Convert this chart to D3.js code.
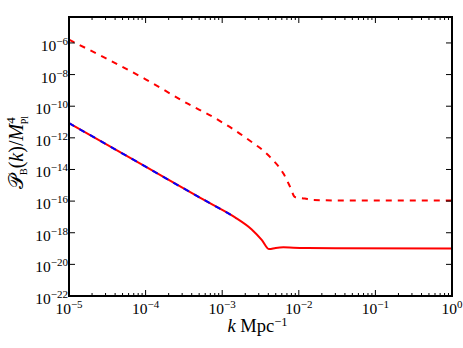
<!DOCTYPE html>
<html>
<head>
<meta charset="utf-8">
<script src="https://cdn.jsdelivr.net/npm/d3@7"></script>
<style>
  body { margin: 0; background: #fff; }
  text { font-family: "Liberation Serif", "DejaVu Serif", serif; fill: #000; }
</style>
</head>
<body>
<svg id="chart" width="463" height="348"></svg>
<script>
// data
var kDashed = [1e-5, 1e-4, 3.6e-4, 7.7e-4, 2.1e-3, 4.2e-3, 6.3e-3, 7.7e-3, 8.9e-3, 1.2e-2, 1.5e-2, 3.2e-2, 1];
var pDashed = [1.6e-6, 5e-9, 1.4e-10, 2e-11, 9e-13, 6.2e-14, 5.5e-15, 8e-16, 1.8e-16, 1.45e-16, 1.2e-16, 1.1e-16, 1.1e-16];

var kSolid = [1e-5, 1e-4, 3.44e-4, 7.7e-4, 1.47e-3, 2.43e-3, 3.3e-3, 4.1e-3, 5.0e-3, 6.3e-3, 8.5e-3, 1.3e-2, 3e-2, 1];
var pSolid = [8.5e-12, 1.5e-14, 4.9e-16, 5.5e-17, 9.3e-18, 1.6e-18, 3.4e-19, 9.2e-20, 1.1e-19, 1.2e-19, 1.13e-19, 1.08e-19, 1.05e-19, 1.02e-19];

var blueEnd = 1.5e-3; // blue dashed curve sits on the red one up to here

var xTickExp = [-5, -4, -3, -2, -1, 0];
var yTickExp = [-22, -20, -18, -16, -14, -12, -10, -8, -6];

//Global config
var width = 463, height = 348;
var margin = {left: 69, top: 17, right: 11, bottom: 52};
var plotW = width - margin.left - margin.right;
var plotH = height - margin.top - margin.bottom;

var svg = d3.select("#chart");
var g = svg.append("g").attr("transform", "translate(" + margin.left + "," + margin.top + ")");

var x = d3.scaleLog().domain([1e-5, 1]).range([0, plotW]);
var y = d3.scaleLog().domain([1e-22, Math.pow(10, -4.36)]).range([plotH, 0]);

g.append("clipPath").attr("id", "plotclip")
  .append("rect").attr("width", plotW).attr("height", plotH);
g.append("clipPath").attr("id", "blueclip")
  .append("rect").attr("width", x(blueEnd)).attr("height", plotH);

var line = d3.line()
  .x(function(d){ return x(d[0]); })
  .y(function(d){ return y(d[1]); })
  .curve(d3.curveMonotoneX);

var solid = d3.zip(kSolid, pSolid);
var dashed = d3.zip(kDashed, pDashed);

var curves = g.append("g").attr("clip-path", "url(#plotclip)");
curves.append("path").datum(solid)
  .attr("d", line).attr("fill", "none")
  .attr("stroke", "#ff0000").attr("stroke-width", 2);
curves.append("path").datum(solid)
  .attr("d", line).attr("fill", "none")
  .attr("clip-path", "url(#blueclip)")
  .attr("stroke", "#0000ff").attr("stroke-width", 2)
  .attr("stroke-dasharray", "6,6");
curves.append("path").datum(dashed)
  .attr("d", line).attr("fill", "none")
  .attr("stroke", "#ff0000").attr("stroke-width", 2)
  .attr("stroke-dasharray", "6,6");

// minor x ticks 2..9 per decade
var xMinor = [];
xTickExp.slice(0, -1).forEach(function(e){
  for (var m = 2; m < 10; m++) xMinor.push(m * Math.pow(10, e));
});

// ticks pointing inward on all four sides
var ticks = g.append("g").attr("stroke", "#000").attr("stroke-width", 1);
xTickExp.forEach(function(e){
  var px = x(Math.pow(10, e));
  ticks.append("line").attr("x1", px).attr("x2", px).attr("y1", plotH).attr("y2", plotH - 6);
  ticks.append("line").attr("x1", px).attr("x2", px).attr("y1", 0).attr("y2", 6);
});
xMinor.forEach(function(v){
  var px = x(v);
  ticks.append("line").attr("x1", px).attr("x2", px).attr("y1", plotH).attr("y2", plotH - 3);
  ticks.append("line").attr("x1", px).attr("x2", px).attr("y1", 0).attr("y2", 3);
});
yTickExp.forEach(function(e){
  var py = y(Math.pow(10, e));
  ticks.append("line").attr("x1", 0).attr("x2", 6).attr("y1", py).attr("y2", py);
  ticks.append("line").attr("x1", plotW).attr("x2", plotW - 6).attr("y1", py).attr("y2", py);
});

// frame
g.append("rect").attr("width", plotW).attr("height", plotH)
  .attr("fill", "none").attr("stroke", "#000").attr("stroke-width", 2);

// tick labels
xTickExp.forEach(function(e){
  var t = g.append("text")
    .attr("x", x(Math.pow(10, e)))
    .attr("y", plotH + 18)
    .attr("text-anchor", "middle")
    .style("font-size", "15.5px");
  t.append("tspan").text("10");
  t.append("tspan").attr("dy", -6).style("font-size", "11px").text(e === 0 ? "0" : "\u2212" + (-e));
});
yTickExp.forEach(function(e){
  var t = g.append("text")
    .attr("x", -1)
    .attr("y", y(Math.pow(10, e)) + 8)
    .attr("text-anchor", "end")
    .style("font-size", "15.5px");
  t.append("tspan").text("10");
  t.append("tspan").attr("dy", -6).style("font-size", "11px").text("\u2212" + (-e));
});

// axis labels
var xl = svg.append("text")
  .attr("x", margin.left + plotW / 2 - 3)
  .attr("y", 332)
  .attr("text-anchor", "middle")
  .style("font-size", "18.5px");
xl.append("tspan").style("font-style", "italic").text("k");
xl.append("tspan").text(" Mpc");
xl.append("tspan").attr("dy", -6).style("font-size", "12.5px").text("\u22121");

var yl = svg.append("text")
  .attr("transform", "translate(23," + (margin.top + plotH / 2 - 4) + ") rotate(-90)")
  .attr("text-anchor", "middle")
  .style("font-size", "20px");
yl.append("tspan").text("\uD835\uDCAB");
yl.append("tspan").attr("dy", 4).style("font-size", "10px").text("B");
yl.append("tspan").attr("dy", -4).text("(");
yl.append("tspan").style("font-style", "italic").text("k");
yl.append("tspan").text(")/");
yl.append("tspan").style("font-style", "italic").text("M");
yl.append("tspan").attr("dy", -8).style("font-size", "13px").text("4");
yl.append("tspan").attr("dx", -7).attr("dy", 13).style("font-size", "10px").text("Pl");
</script>
</body>
</html>
